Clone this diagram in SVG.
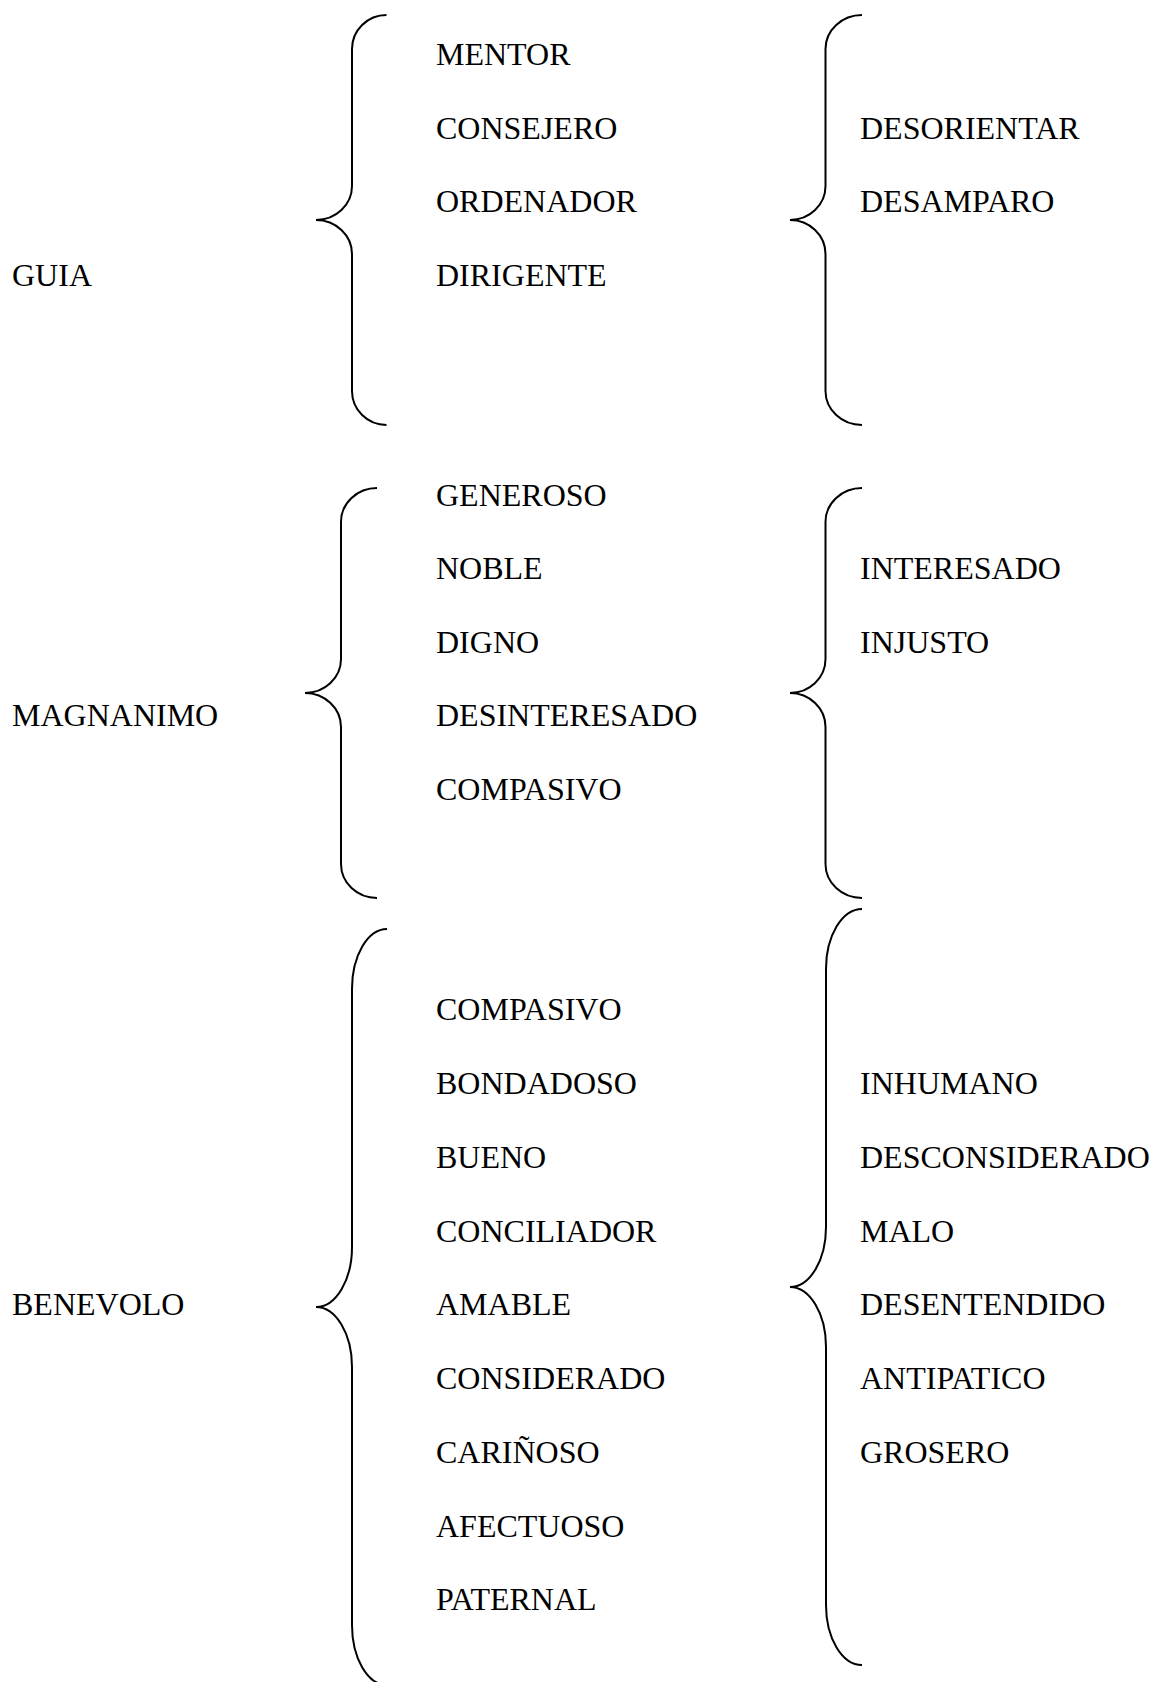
<svg xmlns="http://www.w3.org/2000/svg" width="1154" height="1682" viewBox="0 0 1154 1682">
<style>
text{font-family:"Liberation Serif","Times New Roman",serif;font-size:32px;fill:#000}
.brace{fill:none;stroke:#000;stroke-width:2}
</style>
<rect width="1154" height="1682" fill="#fff"/>
<g id="connectors">
<path class="brace" d="M386.5,15 A34.5,34 0 0 0 352,49 L352,186 A36,34 0 0 1 316,220 A36,34 0 0 1 352,254 L352,391 A34.5,34 0 0 0 386.5,425"/>
<path class="brace" d="M862,15 A36.5,34 0 0 0 825.5,49 L825.5,186 A35.5,34 0 0 1 790,220 A35.5,34 0 0 1 825.5,254 L825.5,391 A36.5,34 0 0 0 862,425"/>
<path class="brace" d="M377,488 A36,34 0 0 0 341,522 L341,659 A36,34 0 0 1 305,693 A36,34 0 0 1 341,727 L341,864 A36,34 0 0 0 377,898"/>
<path class="brace" d="M862,488 A36.5,34 0 0 0 825.5,522 L825.5,659 A35.5,34 0 0 1 790,693 A35.5,34 0 0 1 825.5,727 L825.5,864 A36.5,34 0 0 0 862,898"/>
<path class="brace" d="M387,929 A35,60 0 0 0 352,989 L352,1247 A36,60 0 0 1 316,1307 A36,60 0 0 1 352,1367 L352,1625 A35,60 0 0 0 387,1685"/>
<path class="brace" d="M862,909 A36,60 0 0 0 826,969 L826,1227 A36,60 0 0 1 790,1287 A36,60 0 0 1 826,1347 L826,1605 A36,60 0 0 0 862,1665"/>
</g>
<g id="guia"><text x="12" y="285.5">GUIA</text></g>
<g id="guia-sinonimos">
<text x="436" y="65">MENTOR</text>
<text x="436" y="138.5">CONSEJERO</text>
<text x="436" y="212">ORDENADOR</text>
<text x="436" y="285.5">DIRIGENTE</text>
</g>
<g id="guia-antonimos">
<text x="860" y="138.5">DESORIENTAR</text>
<text x="860" y="212">DESAMPARO</text>
</g>
<g id="magnanimo"><text x="12" y="726">MAGNANIMO</text></g>
<g id="magnanimo-sinonimos">
<text x="436" y="505.5">GENEROSO</text>
<text x="436" y="579">NOBLE</text>
<text x="436" y="652.5">DIGNO</text>
<text x="436" y="726">DESINTERESADO</text>
<text x="436" y="799.5">COMPASIVO</text>
</g>
<g id="magnanimo-antonimos">
<text x="860" y="579">INTERESADO</text>
<text x="860" y="652.5">INJUSTO</text>
</g>
<g id="benevolo"><text x="12" y="1315">BENEVOLO</text></g>
<g id="benevolo-sinonimos">
<text x="436" y="1020">COMPASIVO</text>
<text x="436" y="1094">BONDADOSO</text>
<text x="436" y="1168">BUENO</text>
<text x="436" y="1241.5">CONCILIADOR</text>
<text x="436" y="1315">AMABLE</text>
<text x="436" y="1389">CONSIDERADO</text>
<text x="436" y="1462.5">CARIÑOSO</text>
<text x="436" y="1536.5">AFECTUOSO</text>
<text x="436" y="1610">PATERNAL</text>
</g>
<g id="benevolo-antonimos">
<text x="860" y="1094">INHUMANO</text>
<text x="860" y="1168">DESCONSIDERADO</text>
<text x="860" y="1241.5">MALO</text>
<text x="860" y="1315">DESENTENDIDO</text>
<text x="860" y="1389">ANTIPATICO</text>
<text x="860" y="1462.5">GROSERO</text>
</g>
</svg>
